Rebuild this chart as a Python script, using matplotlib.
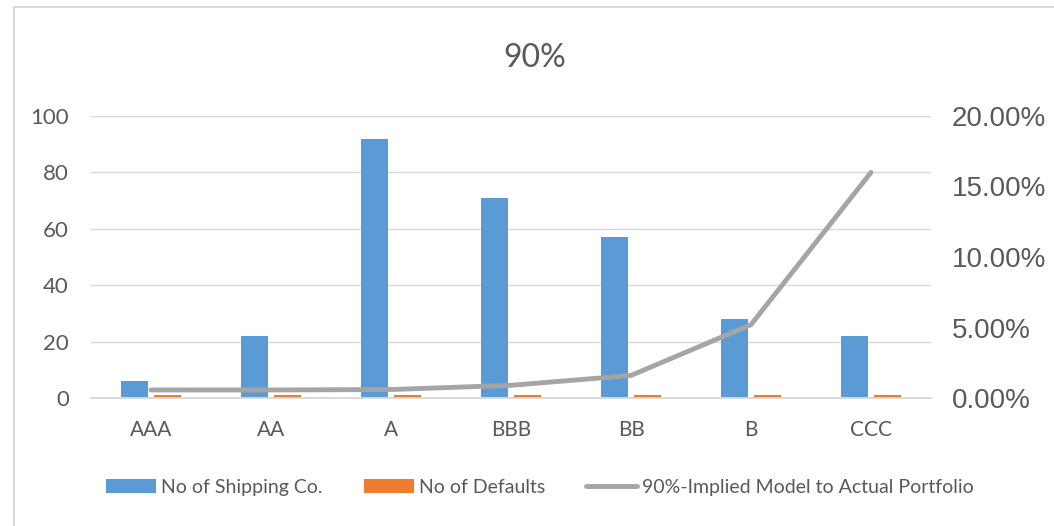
import numpy as np
import matplotlib.pyplot as plt
from matplotlib.patches import Rectangle
from matplotlib.ticker import FuncFormatter

ratings = ["AAA", "AA", "A", "BBB", "BB", "B", "CCC"]
n_companies = [6, 22, 92, 71, 57, 28, 22]
n_defaults = [1, 1, 1, 1, 1, 1, 1]
implied_pct = [0.57, 0.57, 0.60, 0.90, 1.60, 5.20, 16.00]  # in percent

blue = "#5B9BD5"
orange = "#ED7D31"
gray = "#A5A5A5"
txt = "#595959"
light = "#D9D9D9"

fig = plt.figure(figsize=(10.54, 5.26), dpi=100)
ax = fig.add_axes([91 / 1054, 1 - 398 / 526, 840 / 1054, 282 / 526])
ax2 = ax.twinx()

x = np.arange(len(ratings))
w = 0.225
ax.bar(x - 0.138, n_companies, w, color=blue, label="No of Shipping Co.", zorder=2)
ax.bar(x + 0.138, n_defaults, w, color=orange, label="No of Defaults", zorder=2)
ax2.plot(x, implied_pct, color=gray, lw=3.5, solid_capstyle="round", solid_joinstyle="round",
         label="90%-Implied Model to Actual Portfolio", zorder=3)

ax.set_xlim(-0.5, len(ratings) - 0.5)
ax.set_ylim(0, 100)
ax.set_yticks(range(0, 101, 20))
ax2.set_ylim(0, 20)
ax2.set_yticks(range(0, 21, 5))
ax2.yaxis.set_major_formatter(FuncFormatter(lambda v, p: f"{v:.2f}%"))

ax.grid(axis="y", color=light, lw=1, zorder=0)
ax.set_axisbelow(True)
for a in (ax, ax2):
    for s in ("top", "left", "right"):
        a.spines[s].set_visible(False)
    a.spines["bottom"].set_color(light)
    a.spines["bottom"].set_linewidth(1.2)

ax.set_xticks(x)
ax.set_xticklabels(ratings, fontfamily="Lato", fontsize=15, color=txt)
ax.tick_params(axis="x", length=0, pad=16)
ax.tick_params(axis="y", length=0, pad=16, labelsize=16, labelcolor=txt)
for lab in ax.get_yticklabels():
    lab.set_fontfamily("Lato")
ax2.tick_params(axis="y", length=0, pad=15, labelsize=20, labelcolor=txt)
for lab in ax2.get_yticklabels():
    lab.set_fontfamily("Liberation Sans")

fig.text(0.507, 0.890, "90%", ha="center", va="center", fontsize=23,
         fontfamily="Lato", color=txt)

h1, l1 = ax.get_legend_handles_labels()
h2, l2 = ax2.get_legend_handles_labels()
leg = fig.legend(h1 + h2, l1 + l2, loc="center", bbox_to_anchor=(0.512, 0.074), ncol=3,
                 frameon=False, prop={"family": "Lato", "size": 14}, labelcolor=txt,
                 handlelength=2.6, handleheight=0.7, handletextpad=0.26, columnspacing=2.1)

# chart border
fig.patches.append(Rectangle((14 / 1054, -0.05), 1.1, 1 - 7 / 526 + 0.05,
                             transform=fig.transFigure, fill=False,
                             edgecolor=light, lw=1.5, zorder=0))

fig.savefig("out.png", dpi=100)
